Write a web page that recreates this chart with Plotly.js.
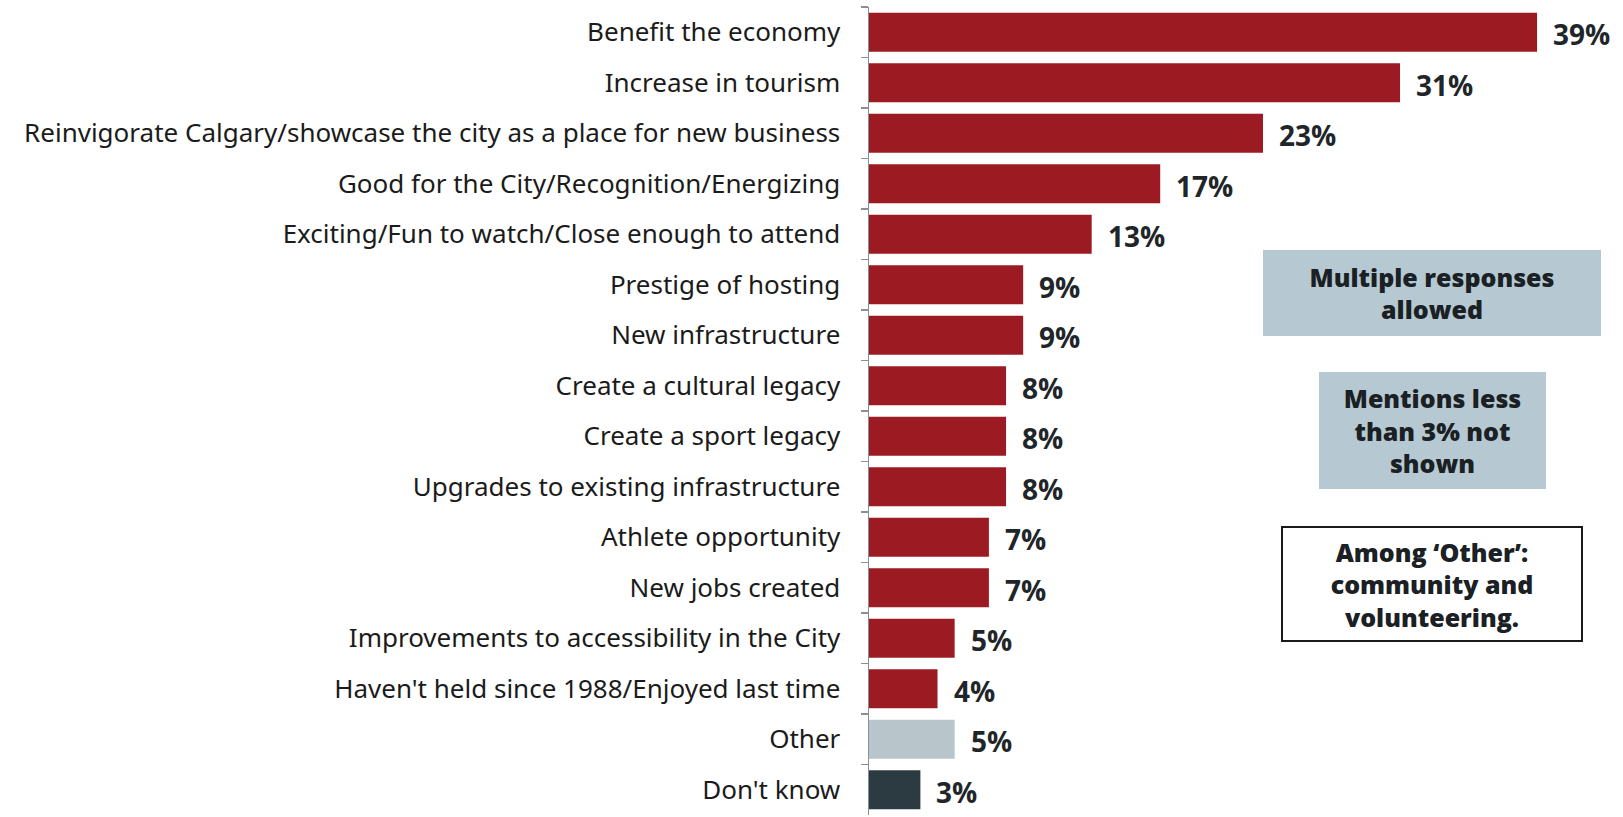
<!DOCTYPE html>
<html>
<head>
<meta charset="utf-8">
<script src="https://cdn.plot.ly/plotly-3.0.1.min.js"></script>
<style>html,body{margin:0;padding:0;background:#fff;}#chart{width:1623px;height:817px;}</style>
</head>
<body>
<div id="chart"></div>
<script>
const categories = [
  "Benefit the economy",
  "Increase in tourism",
  "Reinvigorate Calgary/showcase the city as a place for new business",
  "Good for the City/Recognition/Energizing",
  "Exciting/Fun to watch/Close enough to attend",
  "Prestige of hosting",
  "New infrastructure",
  "Create a cultural legacy",
  "Create a sport legacy",
  "Upgrades to existing infrastructure",
  "Athlete opportunity",
  "New jobs created",
  "Improvements to accessibility in the City",
  "Haven't held since 1988/Enjoyed last time",
  "Other",
  "Don't know"
];
const values = [39, 31, 23, 17, 13, 9, 9, 8, 8, 8, 7, 7, 5, 4, 5, 3];
const valueLabels = values.map(v => v + "%");
const barColors = categories.map(c => c === "Other" ? "#b8c5cb" : (c === "Don't know" ? "#2c3a41" : "#9c1b22"));

const notes = [
  "Multiple responses<br>allowed",
  "Mentions less<br>than 3% not<br>shown",
  "Among \u2018Other\u2019:<br>community and<br>volunteering."
];

// layout geometry (pixels)
const W = 1623, H = 817;
const mL = 869, mR = 0, mT = 7, mB = 2;
const plotW = W - mL - mR, plotH = H - mT - mB;
const px2x = px => (px - mL) / plotW;
const px2y = py => (H - mB - py) / plotH;

const boxes = [
  {cx: 1432, cy: 293, w: 338, h: 86, bg: "#b6c9d2", border: "rgba(0,0,0,0)", bw: 0},
  {cx: 1432.5, cy: 430.5, w: 227, h: 117, bg: "#b6c9d2", border: "rgba(0,0,0,0)", bw: 0},
  {cx: 1432, cy: 583.5, w: 302, h: 116, bg: "#ffffff", border: "#1a1a1a", bw: 2}
];

const annotations = values.map((v, i) => ({
  x: v, y: categories[i], xref: "x", yref: "y",
  text: valueLabels[i], showarrow: false, xanchor: "left", yanchor: "middle",
  xshift: 14, yshift: -2,
  font: {family: "Open Sans, Noto Sans, sans-serif", size: 28, color: "#1f2629", weight: 700}
}));
notes.forEach((t, i) => {
  const b = boxes[i];
  annotations.push({
    x: px2x(b.cx), y: px2y(b.cy), xref: "paper", yref: "paper",
    xanchor: "center", yanchor: "middle", showarrow: false,
    text: t, width: b.w - 2 * b.bw, height: b.h - 2 * b.bw,
    bgcolor: b.bg, bordercolor: b.border, borderwidth: b.bw, borderpad: 0,
    align: "center", valign: "middle",
    font: {family: "Open Sans, Noto Sans, sans-serif", size: 25, color: "#1a2023", weight: 800}
  });
});

const trace = {
  type: "bar", orientation: "h",
  x: values, y: categories,
  marker: {color: barColors},
  width: 0.77,
  hoverinfo: "none"
};

const layout = {
  width: W, height: H,
  margin: {l: mL, r: mR, t: mT, b: mB, pad: 0},
  paper_bgcolor: "#ffffff", plot_bgcolor: "#ffffff",
  showlegend: false,
  xaxis: {range: [0, plotW / 17.13], showgrid: false, zeroline: false, showline: false, showticklabels: false, fixedrange: true},
  yaxis: {
    type: "category", categoryorder: "array", categoryarray: categories,
    autorange: "reversed",
    showline: true, linecolor: "#8a8f92", linewidth: 1.5,
    ticks: "outside", tickson: "boundaries", ticklen: 7, tickcolor: "#8a8f92", tickwidth: 1.5,
    ticklabelstandoff: 22,
    tickfont: {family: "Noto Sans, Open Sans, sans-serif", size: 26, color: "#1b1b1b"},
    showgrid: false, zeroline: false, fixedrange: true
  },
  annotations: annotations
};

Plotly.newPlot("chart", [trace], layout, {staticPlot: true, displayModeBar: false});
</script>
</body>
</html>
